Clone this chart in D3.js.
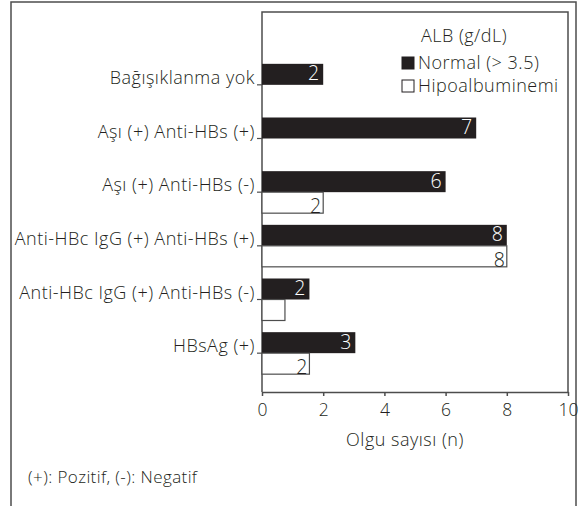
<!DOCTYPE html>
<html><head><meta charset="utf-8">
<script src="https://cdn.jsdelivr.net/npm/d3@7/dist/d3.min.js"></script>
<style>body{margin:0;background:#fff}svg{display:block}text{font-family:"Open Sans",Lato,sans-serif;font-weight:300;fill:#231f20}</style>
</head><body>
<script>
const categories = ["Bağışıklanma yok","Aşı (+) Anti-HBs (+)","Aşı (+) Anti-HBs (-)","Anti-HBc IgG (+) Anti-HBs (+)","Anti-HBc IgG (+) Anti-HBs (-)","HBsAg (+)"];
const normalValues = [2, 7, 6, 8, 1.55, 3.05];
const normalLabels = ["2","7","6","8","2","3"];
const hipoValues = [null, null, 2, 8, 0.75, 1.55];
const hipoLabels = ["", "", "2", "8", "", "2"];
const xTicks = [0, 2, 4, 6, 8, 10];
const seriesNames = ["Normal (> 3.5)", "Hipoalbuminemi"];
const legendTitle = "ALB (g/dL)";
const xTitle = "Olgu sayısı (n)";
const footnote = "(+): Pozitif, (-): Negatif";

const W = 582, H = 506;
const svg = d3.select("body").append("svg").attr("width", W).attr("height", H);
const dark = "#231f20", line = "#4d4d4d";
const FF = '"Open Sans", Lato, sans-serif';
const LS = "0.5px";

svg.append("rect").attr("x", 11).attr("y", 2).attr("width", 565).attr("height", 540)
  .attr("fill", "none").attr("stroke", line).attr("stroke-width", 1.5);

const L = 262, R = 568, T = 12, B = 392;
const x = d3.scaleLinear().domain([0, 10]).range([L, R]);
const y = d3.scaleBand().domain(categories).range([58, 380]);
const bh = 21;

svg.append("path").attr("d", `M${L},${B}V${T}H${R}V${B}`).attr("fill", "none").attr("stroke", line).attr("stroke-width", 1.5);

const rows = categories.map((c, i) => ({c, n: normalValues[i], nl: normalLabels[i], h: hipoValues[i], hl: hipoLabels[i]}));
const cy = c => y(c) + y.bandwidth() / 2;

svg.selectAll("rect.n").data(rows).join("rect").attr("class", "n")
  .attr("x", x(0)).attr("y", d => cy(d.c) - bh).attr("width", d => x(d.n) - x(0)).attr("height", bh)
  .attr("fill", dark);
svg.selectAll("rect.h").data(rows.filter(d => d.h != null)).join("rect").attr("class", "h")
  .attr("x", x(0)).attr("y", d => cy(d.c)).attr("width", d => x(d.h) - x(0)).attr("height", bh)
  .attr("fill", "#fff").attr("stroke", line).attr("stroke-width", 1.2);

svg.selectAll("text.nl").data(rows).join("text").attr("class", "nl")
  .attr("x", d => x(d.n) - 4).attr("y", d => cy(d.c) - 4.5).attr("text-anchor", "end")
  .style("font-size", "19.5px").style("fill", "#fff").text(d => d.nl);
svg.selectAll("text.hl").data(rows.filter(d => d.hl)).join("text").attr("class", "hl")
  .attr("x", d => x(d.h) - 2).attr("y", d => cy(d.c) + bh).attr("text-anchor", "end")
  .style("font-size", "19.5px").text(d => d.hl);

const xa = svg.append("g").attr("transform", `translate(0,${B})`)
  .call(d3.axisBottom(x).tickValues(xTicks).tickSize(4).tickSizeOuter(0).tickPadding(8));
xa.select(".domain").attr("stroke", line).attr("stroke-width", 1.5);
xa.selectAll(".tick line").attr("stroke", line).attr("stroke-width", 1.5);
xa.selectAll("text").style("font-size", "17.5px").style("font-family", FF).attr("fill", dark);

const ya = svg.append("g").attr("transform", `translate(${L},0)`)
  .call(d3.axisLeft(y).tickSize(5).tickSizeOuter(0).tickPadding(2));
ya.select(".domain").remove();
ya.selectAll(".tick line").attr("stroke", line).attr("stroke-width", 1.2);
ya.selectAll(".tick").attr("transform", d => `translate(0,${cy(d)})`);
ya.selectAll("text").style("font-size", "18px").style("font-family", FF).style("letter-spacing", LS)
  .attr("fill", dark).attr("dy", "-0.05em");

svg.append("text").attr("x", 405).attr("y", 446).attr("text-anchor", "middle").style("font-size", "18px").style("letter-spacing", LS).text(xTitle);
svg.append("text").attr("x", 28).attr("y", 483).style("font-size", "17px").style("letter-spacing", "0.4px").text(footnote);

const lg = svg.append("g");
lg.append("text").attr("x", 464).attr("y", 42).attr("text-anchor", "middle").style("font-size", "18px").style("letter-spacing", LS).text(legendTitle);
seriesNames.forEach((s, i) => {
  const yy = 63 + i * 23;
  lg.append("rect").attr("x", 402).attr("y", yy - 6).attr("width", 12).attr("height", 12)
    .attr("fill", i === 0 ? dark : "#fff").attr("stroke", dark).attr("stroke-width", 1);
  lg.append("text").attr("x", 418).attr("y", yy + 6).style("font-size", "18px").style("letter-spacing", LS).text(s);
});
</script>
</body></html>
